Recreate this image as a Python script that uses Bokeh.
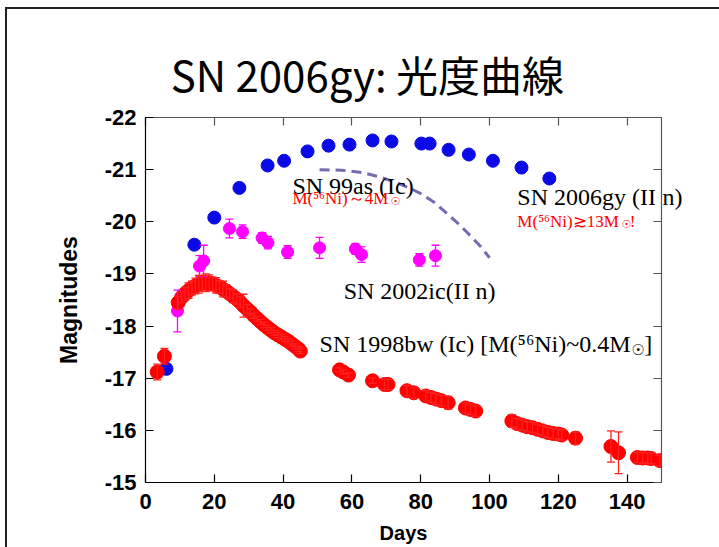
from bokeh.plotting import figure
from bokeh.models import (Range1d, FixedTicker, LinearAxis, Label, Whisker,
                          TeeHead, ColumnDataSource)
from bokeh.embed import file_html
from bokeh.resources import INLINE

# ---------------- data ----------------
title_text = "SN 2006gy: 光度曲線"
x_ticks = [0, 20, 40, 60, 80, 100, 120, 140]
y_ticks = [-22, -21, -20, -19, -18, -17, -16, -15]

# SN 2006gy (II n)
gy_day = [6.1, 14.2, 20.0, 27.3, 35.5, 40.3, 47.1, 53.2, 59.3, 66.0, 71.5,
          80.2, 82.6, 88.1, 94.0, 101.0, 109.3, 117.4]
gy_mag = [-17.18, -19.56, -20.08, -20.65, -21.08, -21.17, -21.35, -21.46,
          -21.48, -21.56, -21.54, -21.50, -21.50, -21.38, -21.29, -21.17,
          -21.04, -20.83]

# SN 2002ic (II n)
ic_day = [9.3, 15.7, 16.9, 24.4, 28.2, 33.9, 35.6, 41.3, 50.6, 61.0, 62.8,
          79.6, 84.3]
ic_mag = [-18.29, -19.15, -19.25, -19.87, -19.81, -19.69, -19.60, -19.42,
          -19.50, -19.48, -19.37, -19.27, -19.35]
ic_err = [0.40, 0.20, 0.30, 0.18, 0.13, 0.10, 0.12, 0.12, 0.20, 0.10, 0.15,
          0.12, 0.20]

# SN 1998bw (Ic)
bw_day = [3.4, 5.5, 9.5, 10.5, 11.5, 12.5, 13.5, 14.5, 15.5, 16.5, 17.5,
          18.5, 19.5, 20.5, 21.5, 22.5, 23.5, 24.5, 25.5, 26.5, 27.5, 28.5,
          29.5, 30.5, 31.5, 32.5, 33.5, 34.5, 35.5, 36.5, 37.5, 38.5, 39.5,
          40.5, 41.5, 42.5, 43.5, 44.5, 45.0, 56.4, 57.5, 59.0, 66.0, 69.5,
          70.5, 76.0, 78.0, 81.5, 83.0, 84.5, 86.0, 88.0, 93.0, 94.5, 96.0,
          106.5, 108.0, 109.5, 111.0, 112.5, 114.0, 115.5, 117.0, 118.5,
          120.0, 121.0, 125.0, 135.3, 137.5, 143.0, 144.5, 146.0, 147.0,
          149.5]
bw_mag = [-17.12, -17.42, -18.45, -18.55, -18.62, -18.68, -18.73, -18.77,
          -18.80, -18.82, -18.83, -18.83, -18.81, -18.78, -18.75, -18.71,
          -18.67, -18.62, -18.57, -18.52, -18.46, -18.39, -18.33, -18.27,
          -18.20, -18.14, -18.08, -18.02, -17.97, -17.92, -17.87, -17.83,
          -17.79, -17.75, -17.71, -17.66, -17.61, -17.56, -17.52, -17.16,
          -17.12, -17.06, -16.95, -16.88, -16.88, -16.76, -16.72, -16.66,
          -16.63, -16.60, -16.57, -16.53, -16.43, -16.40, -16.37, -16.18,
          -16.13, -16.10, -16.07, -16.05, -16.02, -15.99, -15.96, -15.94,
          -15.93, -15.91, -15.85, -15.69, -15.57, -15.48, -15.47, -15.47,
          -15.46, -15.42]
bw_err = [0.15, 0.15, 0.12, 0.10, 0.12, 0.15, 0.13, 0.15, 0.17, 0.15, 0.17,
          0.15, 0.13, 0.15, 0.12, 0.15, 0.12, 0.10, 0.12, 0.10, 0.10, 0.22,
          0.08, 0.06, 0.05, 0.05, 0.05, 0.05, 0.05, 0.05, 0.05, 0.05, 0.05,
          0.05, 0.05, 0.05, 0.05, 0.05, 0.05, 0.04, 0.04, 0.04, 0.05, 0.10,
          0.10, 0.10, 0.10, 0.10, 0.10, 0.10, 0.10, 0.12, 0.10, 0.10, 0.10,
          0.12, 0.10, 0.10, 0.10, 0.10, 0.10, 0.10, 0.10, 0.10, 0.10, 0.10,
          0.12, 0.30, 0.40, 0.10, 0.10, 0.10, 0.10, 0.10]

# SN 99as (Ic) model curve
as_day = [50.6, 57.0, 63.4, 68.0, 73.0, 77.0, 80.0, 84.0, 87.8, 91.0, 94.5,
          97.5, 100.0]
as_mag = [-21.00, -20.99, -20.94, -20.86, -20.75, -20.64, -20.54, -20.37,
          -20.15, -19.96, -19.73, -19.52, -19.31]

# ---------------- figure ----------------
p = figure(width=719, height=547, output_backend="svg", toolbar_location=None,
           x_range=Range1d(0, 150), y_range=Range1d(-15, -22),
           min_border_left=145, min_border_right=58, min_border_top=117,
           min_border_bottom=65, x_axis_location=None, y_axis_location=None)
p.grid.visible = False
p.outline_line_color = None
p.background_fill_color = "white"
p.border_fill_color = None
# slide frame lines (left and top edge of the slide), drawn as page background
p.styles = {
    "background": ("linear-gradient(#222222,#222222) 5px 7px / 2px 560px no-repeat, "
                   "linear-gradient(#222222,#222222) 5px 7px / 730px 2px no-repeat, "
                   "#ffffff")
}

def style_axis(ax, labels=True, color="black"):
    ax.major_tick_in = 8
    ax.major_tick_out = 0
    ax.minor_tick_in = 0
    ax.minor_tick_out = 0
    ax.axis_line_color = color
    ax.major_tick_line_color = color
    ax.axis_line_width = 1.2
    ax.major_tick_line_width = 1.2
    if labels:
        ax.major_label_text_font = "Liberation Sans"
        ax.major_label_text_font_style = "bold"
        ax.major_label_text_font_size = "22px"
        ax.major_label_text_color = "black"
        ax.axis_label_text_font = "Liberation Sans"
        ax.axis_label_text_font_style = "bold"
        ax.axis_label_text_font_size = "20px"
        ax.axis_label_text_color = "black"
    else:
        ax.major_label_text_font_size = "10px"
        ax.major_label_text_color = None

xb = LinearAxis(ticker=FixedTicker(ticks=x_ticks))
style_axis(xb)
xb.major_label_standoff = 11
xb.major_label_overrides = {t: str(t) for t in x_ticks}
p.add_layout(xb, "below")

yl = LinearAxis(ticker=FixedTicker(ticks=y_ticks), axis_label="Magnitudes")
style_axis(yl)
yl.axis_label_text_font_size = "23px"
yl.major_label_standoff = 9
yl.axis_label_standoff = 20
yl.major_label_overrides = {t: str(t) for t in y_ticks}
p.add_layout(yl, "left")

xt = LinearAxis(ticker=FixedTicker(ticks=x_ticks))
style_axis(xt, labels=False, color="#555555")
p.add_layout(xt, "above")

yr = LinearAxis(ticker=FixedTicker(ticks=y_ticks))
style_axis(yr, labels=False, color="#555555")
p.add_layout(yr, "right")

# ---------------- data marks ----------------
src_ic = ColumnDataSource(dict(x=ic_day, y=ic_mag,
                               lo=[m - e for m, e in zip(ic_mag, ic_err)],
                               hi=[m + e for m, e in zip(ic_mag, ic_err)]))
src_bw = ColumnDataSource(dict(x=bw_day, y=bw_mag,
                               lo=[m - e for m, e in zip(bw_mag, bw_err)],
                               hi=[m + e for m, e in zip(bw_mag, bw_err)]))

p.line(as_day, as_mag, line_color="#7a68b0", line_width=3, line_dash="10 6")

p.scatter(gy_day, gy_mag, size=13, marker="circle", fill_color="#0a0ae6",
          line_color="#0a0ae6")

p.add_layout(Whisker(source=src_ic, base="x", lower="lo", upper="hi",
                     line_color="#ff00ff", line_width=1.3, level="glyph",
                     upper_head=TeeHead(size=8, line_color="#ff00ff", line_width=1.3),
                     lower_head=TeeHead(size=8, line_color="#ff00ff", line_width=1.3)))
p.scatter("x", "y", source=src_ic, size=12, marker="circle",
          fill_color="#ff00ff", line_color="#ff00ff")

p.add_layout(Whisker(source=src_bw, base="x", lower="lo", upper="hi",
                     line_color="#ff2020", line_width=1.3, level="glyph",
                     upper_head=TeeHead(size=8, line_color="#ff2020", line_width=1.3),
                     lower_head=TeeHead(size=8, line_color="#ff2020", line_width=1.3)))
p.scatter("x", "y", source=src_bw, size=14, marker="circle",
          fill_color="#ff0000", line_color="#ff0000")

# ---------------- texts ----------------
def lab(x, y, text, size, color="black", font="Liberation Serif",
        align="left", baseline="alphabetic", place=None, style="normal"):
    l = Label(x=x, y=y, text=text, text_font=font, text_font_size=size,
              text_color=color, text_align=align, text_baseline=baseline,
              text_font_style=style)
    if place is None:
        p.add_layout(l)
    else:
        p.add_layout(l, place)

lab(64.5, -22.85, title_text, "42px", font="Noto Sans CJK JP",
    align="center", baseline="middle", place="above")

# x axis title, placed low like on the slide
lab(75.0, -14.04, "Days", "20px", font="Liberation Sans", align="center",
    baseline="middle", place="below", style="bold")

dy = -0.13
lab(42.7, -20.56 + dy, "SN 99as (Ic)", "24px")
lab(42.7, -20.31 + dy, "M(⁵⁶Ni)～4M", "17px", color="#ff0000")
lab(71.2, -20.25 + dy, "☉", "11px", color="#ff0000", font="DejaVu Sans")

lab(108.1, -20.35 + dy, "SN 2006gy (II", "24px")
lab(150.3, -20.35 + dy, "n)", "24px", place="right")
lab(108.1, -19.88 + dy, "M(⁵⁶Ni)≳13M", "17px", color="#ff0000")
lab(138.4, -19.82 + dy, "☉", "11px", color="#ff0000", font="DejaVu Sans")
lab(140.8, -19.88 + dy, "!", "17px", color="#ff0000")

lab(57.6, -18.54 + dy, "SN 2002ic(II n)", "24px")

lab(50.6, -17.52 + dy, "SN 1998bw (Ic) [M(⁵⁶Ni)~0.4M", "24px")
lab(141.3, -17.41 + dy, "☉", "15px", font="DejaVu Sans")
lab(145.0, -17.52 + dy, "]", "24px")

open("out.html", "w").write(file_html(p, INLINE))
